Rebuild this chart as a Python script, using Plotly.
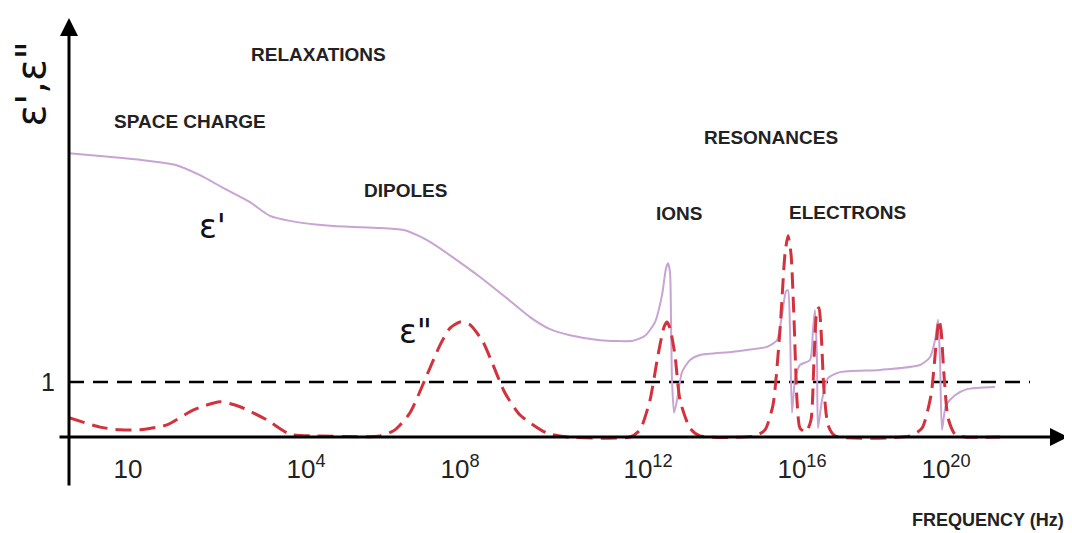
import plotly.graph_objects as go

# Schematic frequency axis (position units) and permittivity values
TICK_POS = [59, 237, 391, 579, 733, 877]
TICK_TEXT = ["10", "10<sup>4</sup>", "10<sup>8</sup>", "10<sup>12</sup>", "10<sup>16</sup>", "10<sup>20</sup>"]

EPS1_X = [0, 31, 71, 106, 131, 156, 181, 201, 221, 261, 311, 336, 361, 386, 411, 436, 461, 481, 501,
          531, 564, 576, 586, 593, 597, 599, 601, 602, 603, 605, 608, 613, 621, 631, 664, 698, 708,
          713, 717, 719, 721, 723, 726, 731, 741, 744, 746, 748, 749, 753, 759, 771, 811, 851, 861,
          866, 869, 871, 873, 877, 886, 898, 926]
EPS1_Y = [5.16, 5.11, 5.04, 4.95, 4.76, 4.51, 4.27, 4.02, 3.93, 3.84, 3.80, 3.76, 3.55, 3.24, 2.91,
          2.55, 2.18, 1.96, 1.85, 1.76, 1.75, 1.84, 2.09, 2.58, 3.07, 3.16, 3.00, 2.13, 1.04, 0.44,
          0.67, 1.18, 1.40, 1.49, 1.55, 1.64, 1.76, 2.22, 2.65, 2.67, 1.95, 0.44, 1.04, 1.31, 1.40,
          1.95, 2.31, 1.40, 0.16, 0.67, 1.07, 1.18, 1.22, 1.31, 1.45, 1.76, 2.13, 1.40, 0.13, 0.58,
          0.76, 0.87, 0.91]

EPS2_X = [0, 31, 51, 71, 98, 124, 151, 171, 198, 221, 248, 311, 326, 341, 358, 371, 381, 391, 401,
          414, 424, 436, 451, 478, 498, 561, 571, 581, 589, 595, 598, 601, 606, 611, 621, 631, 686,
          696, 704, 711, 716, 719, 722, 725, 728, 731, 737, 742, 745, 748, 750, 752, 755, 759, 766,
          841, 853, 862, 867, 870, 872, 875, 879, 886, 896, 931]
EPS2_Y = [0.35, 0.18, 0.13, 0.13, 0.22, 0.49, 0.64, 0.55, 0.31, 0.05, 0.02, 0.02, 0.13, 0.44, 1.13,
          1.67, 1.98, 2.09, 2.04, 1.73, 1.31, 0.80, 0.40, 0.07, 0.0, 0.0, 0.13, 0.67, 1.49, 2.0,
          2.09, 1.98, 1.49, 0.67, 0.16, 0.02, 0.02, 0.13, 0.58, 1.95, 3.33, 3.66, 3.33, 2.15, 0.67,
          0.16, 0.09, 0.31, 1.40, 2.31, 2.35, 1.95, 0.85, 0.22, 0.02, 0.02, 0.16, 0.76, 1.67, 2.13,
          1.95, 1.13, 0.35, 0.05, 0.0, 0.0]

REF_LEVEL = 1
REF_X = [0, 961]

LABELS = [
    ("RELAXATIONS", 249, 6.96),
    ("SPACE CHARGE", 121, 5.73),
    ("DIPOLES", 336, 4.49),
    ("RESONANCES", 702, 5.45),
    ("IONS", 610, 4.07),
    ("ELECTRONS", 778, 4.09),
]

Y_TOP = 7.673
Y_BOT = -0.109

fig = go.Figure()

fig.add_trace(go.Scatter(x=REF_X, y=[REF_LEVEL] * len(REF_X), mode="lines",
                         line=dict(color="black", width=2.5, dash="15px,9px"),
                         hoverinfo="skip", showlegend=False))
fig.add_trace(go.Scatter(x=EPS1_X, y=EPS1_Y, mode="lines",
                         line=dict(color="#c9a3d3", width=2, shape="spline", smoothing=0.6),
                         showlegend=False, cliponaxis=False))
fig.add_trace(go.Scatter(x=EPS2_X, y=EPS2_Y, mode="lines",
                         line=dict(color="#d3323c", width=3, dash="16px,8px", shape="spline", smoothing=0.6),
                         showlegend=False, cliponaxis=False))

annotations = []
# axes with arrows
annotations.append(dict(x=0, y=7.62, xref="x", yref="y", ax=0, ay=469, axref="pixel", ayref="pixel",
                        text="", showarrow=True, arrowhead=2, arrowwidth=3, arrowsize=1.2,
                        arrowcolor="black"))
annotations.append(dict(x=999, y=0, xref="x", yref="y", ax=-1010, ay=0,
                        text="", showarrow=True, arrowhead=2, arrowwidth=3, arrowsize=1.2,
                        arrowcolor="black"))

for txt, x, y in LABELS:
    annotations.append(dict(x=x, y=y, xref="x", yref="y", text=txt, showarrow=False,
                            font=dict(family="Liberation Sans, Arial", size=19, color="#222",
                                      weight="bold")))

annotations.append(dict(x=0.918, y=-0.18, xref="paper", yref="paper", text="FREQUENCY (Hz)",
                        showarrow=False, xanchor="center", yanchor="middle",
                        font=dict(family="Liberation Sans, Arial", size=18, color="#222",
                                  weight="bold")))
annotations.append(dict(x=143, y=3.82, xref="x", yref="y", text="ε'", showarrow=False,
                        font=dict(family="DejaVu Sans", size=33, color="#111")))
annotations.append(dict(x=346, y=1.91, xref="x", yref="y", text="ε\"", showarrow=False,
                        font=dict(family="DejaVu Sans", size=33, color="#111")))
annotations.append(dict(x=-0.021, y=0.143, xref="paper", yref="paper", text="1", showarrow=False,
                        xanchor="center", yanchor="middle",
                        font=dict(family="Liberation Sans, Arial", size=25, color="#222")))
annotations.append(dict(x=-0.037, y=0.84, xref="paper", yref="paper", text="ε',ε\"",
                        showarrow=False, textangle=-90, xanchor="center", yanchor="middle",
                        font=dict(family="DejaVu Sans", size=40, color="#111")))

fig.update_layout(
    width=1064, height=525,
    margin=dict(l=61, r=2, t=7, b=90),
    paper_bgcolor="white", plot_bgcolor="white",
    annotations=annotations,
    xaxis=dict(range=[0, 1001], showgrid=False, zeroline=False, showline=False,
               tickmode="array", tickvals=TICK_POS, ticktext=TICK_TEXT,
               ticks="outside", ticklen=3, tickcolor="rgba(0,0,0,0)",
               tickfont=dict(family="Liberation Sans, Arial", size=26, color="#222")),
    yaxis=dict(range=[Y_BOT, Y_TOP], showgrid=False, zeroline=False, showline=False,
               showticklabels=False, ticks=""),
)

fig.write_html("out.html")
